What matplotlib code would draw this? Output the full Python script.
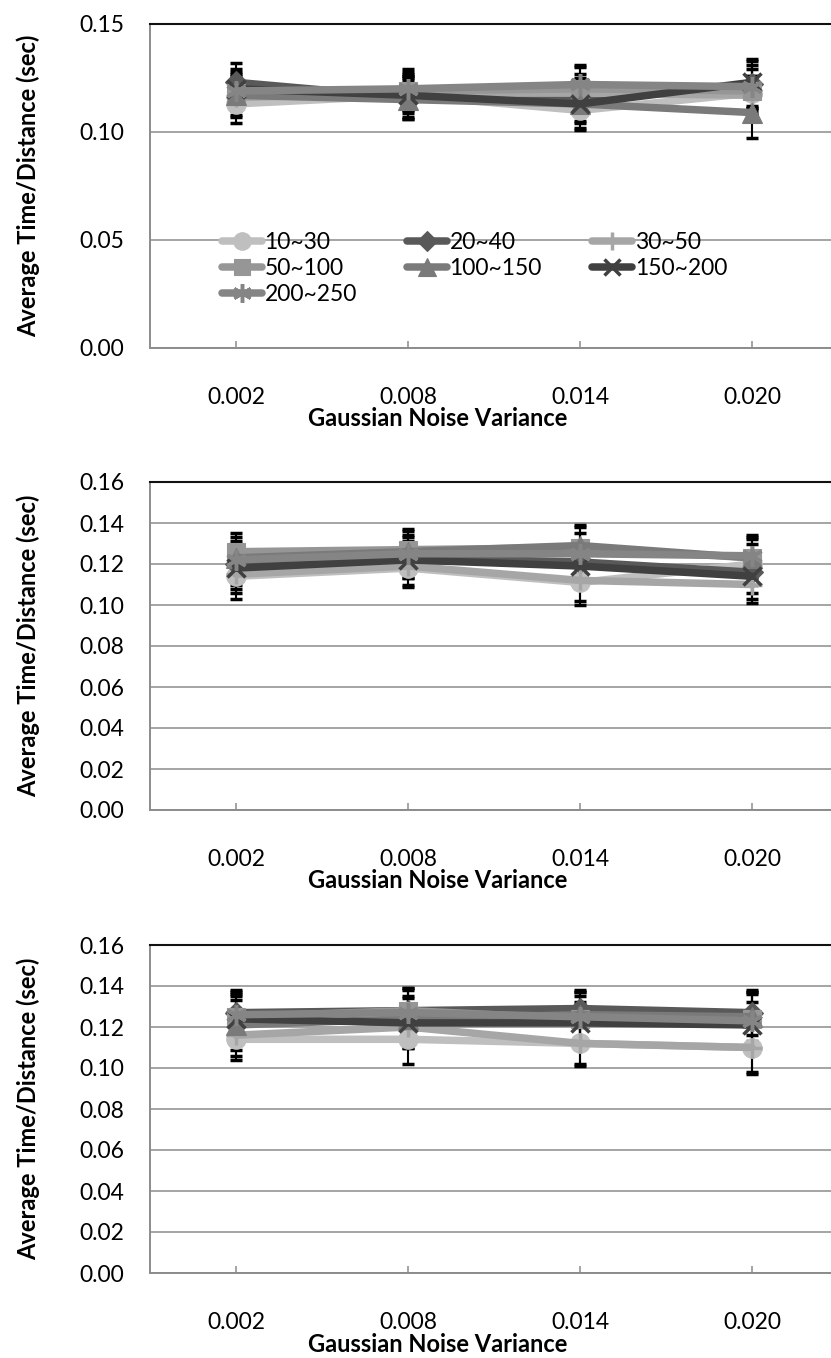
import matplotlib
matplotlib.use("Agg")
import matplotlib.pyplot as plt
import numpy as np

# ---- data -------------------------------------------------------------
categories = ["0.002", "0.008", "0.014", "0.020"]
series_labels = ["10~30", "20~40", "30~50", "50~100", "100~150", "150~200", "200~250"]

# top chart: mean time/distance and error per series
top_means = [
    [0.113, 0.117, 0.110, 0.118],
    [0.123, 0.116, 0.115, 0.122],
    [0.116, 0.118, 0.118, 0.117],
    [0.118, 0.119, 0.120, 0.119],
    [0.117, 0.115, 0.113, 0.109],
    [0.120, 0.117, 0.113, 0.123],
    [0.119, 0.120, 0.122, 0.121],
]
top_errs = [
    [0.009, 0.008, 0.009, 0.008],
    [0.009, 0.010, 0.010, 0.011],
    [0.008, 0.008, 0.009, 0.009],
    [0.008, 0.009, 0.010, 0.010],
    [0.010, 0.009, 0.011, 0.012],
    [0.009, 0.010, 0.009, 0.011],
    [0.009, 0.009, 0.009, 0.010],
]

# middle chart
mid_means = [
    [0.114, 0.118, 0.111, 0.120],
    [0.120, 0.123, 0.121, 0.116],
    [0.115, 0.119, 0.112, 0.110],
    [0.126, 0.127, 0.128, 0.123],
    [0.123, 0.126, 0.129, 0.123],
    [0.118, 0.122, 0.119, 0.114],
    [0.122, 0.125, 0.125, 0.124],
]
mid_errs = [
    [0.011, 0.009, 0.011, 0.010],
    [0.010, 0.010, 0.010, 0.010],
    [0.009, 0.009, 0.010, 0.009],
    [0.009, 0.010, 0.010, 0.010],
    [0.010, 0.010, 0.010, 0.009],
    [0.010, 0.009, 0.010, 0.011],
    [0.009, 0.009, 0.010, 0.010],
]

# bottom chart
bot_means = [
    [0.114, 0.114, 0.112, 0.110],
    [0.127, 0.128, 0.129, 0.127],
    [0.116, 0.120, 0.112, 0.110],
    [0.125, 0.128, 0.124, 0.124],
    [0.121, 0.124, 0.126, 0.125],
    [0.124, 0.122, 0.122, 0.121],
    [0.126, 0.127, 0.125, 0.123],
]
bot_errs = [
    [0.010, 0.012, 0.011, 0.013],
    [0.010, 0.011, 0.009, 0.011],
    [0.010, 0.010, 0.010, 0.012],
    [0.011, 0.011, 0.011, 0.012],
    [0.012, 0.011, 0.011, 0.012],
    [0.011, 0.012, 0.010, 0.011],
    [0.012, 0.011, 0.012, 0.014],
]

top_yticks = [0.00, 0.05, 0.10, 0.15]
lower_yticks = [0.00, 0.02, 0.04, 0.06, 0.08, 0.10, 0.12, 0.14, 0.16]

x_title = "Gaussian Noise Variance"
y_title = "Average Time/Distance (sec)"

# ---- styling ----------------------------------------------------------
plt.rcParams["font.family"] = ["Lato", "DejaVu Sans"]
colors = ["#BFBFBF", "#595959", "#A6A6A6", "#969696", "#7A7A7A", "#404040", "#858585"]
markers = ["o", "D", "+", "s", "^", "x", (6, 2, 0)]
msizes = [14, 11, 14, 13, 14, 13, 15]
TICK_FS = 16.5
TITLE_FS = 17

W, H = 831, 1358
fig = plt.figure(figsize=(W / 100, H / 100), dpi=100)

# axes frames in pixel coordinates: (top, bottom)
AX_LEFT, AX_RIGHT = 150, 838
panels = [
    (24, 348, top_means, top_errs, top_yticks, "{:.2f}"),
    (482, 810, mid_means, mid_errs, lower_yticks, "{:.2f}"),
    (945, 1273, bot_means, bot_errs, lower_yticks, "{:.2f}"),
]

x = np.arange(len(categories))
axes = []
for top, bottom, means, errs, yticks, fmt in panels:
    ax = fig.add_axes([AX_LEFT / W, 1 - bottom / H,
                       (AX_RIGHT - AX_LEFT) / W, (bottom - top) / H])
    axes.append(ax)
    ax.set_xlim(-0.5, len(categories) - 0.5)
    ax.set_ylim(yticks[0], yticks[-1])
    ax.set_yticks(yticks)
    ax.set_yticklabels([fmt.format(v) for v in yticks], fontsize=TICK_FS)
    ax.set_xticks(x)
    ax.set_xticklabels(categories, fontsize=TICK_FS)
    ax.tick_params(axis="y", length=0, pad=18.5)
    ax.tick_params(axis="x", direction="in", length=5, width=1.1,
                   color="#8C8C8C", pad=28)
    ax.grid(axis="y", color="#8C8C8C", linewidth=1.1, zorder=0)
    ax.set_axisbelow(True)
    for side in ("left", "bottom"):
        ax.spines[side].set_color("#8C8C8C")
        ax.spines[side].set_linewidth(1.4)
    ax.spines["right"].set_visible(False)
    ax.spines["top"].set_color("#111111")
    ax.spines["top"].set_linewidth(1.5)

    # error bars underneath the series lines
    for m, e in zip(means, errs):
        ax.errorbar(x, m, yerr=e, fmt="none", ecolor="black", elinewidth=1.5,
                    capsize=4.3, capthick=2.5, zorder=2, clip_on=False)
    for i, (m, lab) in enumerate(zip(means, series_labels)):
        mk = markers[i]
        edge_w = 2.5 if mk in ("+", "x") or isinstance(mk, tuple) else 0.8
        ax.plot(x, m, color=colors[i], linewidth=5.4, marker=mk,
                markersize=msizes[i], markerfacecolor=colors[i],
                markeredgecolor=colors[i], markeredgewidth=edge_w,
                solid_capstyle="round", label=lab, zorder=3 + i)

    ax.set_xlabel(x_title, fontsize=TITLE_FS, fontweight="bold", va="center")
    ax.xaxis.set_label_coords((438 - AX_LEFT) / (AX_RIGHT - AX_LEFT),
                              -71 / (bottom - top))
    ax.set_ylabel(y_title, fontsize=TITLE_FS, fontweight="bold", va="center")
    ax.yaxis.set_label_coords(-(AX_LEFT - 28) / (AX_RIGHT - AX_LEFT), 0.5)

# legend on the top chart, row-major order in three columns
top_ax = axes[0]
h_all, l_all = top_ax.get_legend_handles_labels()
order = [0, 3, 6, 1, 4, 2, 5]
top_ax.legend([h_all[k] for k in order], [l_all[k] for k in order],
              ncol=3, frameon=False, fontsize=TICK_FS, loc="upper left",
              bbox_to_anchor=((222 - AX_LEFT) / (AX_RIGHT - AX_LEFT),
                              (348 - 232) / (348 - 24)),
              borderaxespad=0, borderpad=0, handlelength=1.75,
              handletextpad=0.1, labelspacing=0.22, columnspacing=2.2,
              markerscale=0.9)

fig.savefig("out.png", dpi=100)
